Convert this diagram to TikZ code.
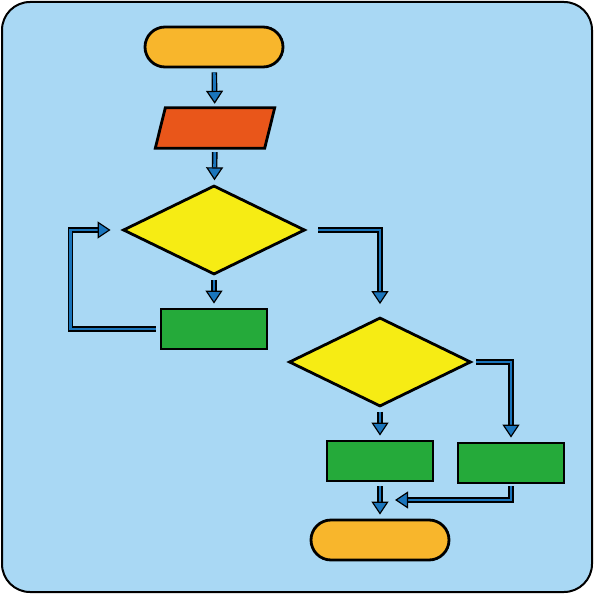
\documentclass[tikz,border=0pt]{standalone}
\usepackage{tikz}
\usetikzlibrary{arrows.meta,shapes.geometric}
\definecolor{backblue}{HTML}{A9D8F4}
\definecolor{termorange}{HTML}{F8B62C}
\definecolor{inred}{HTML}{E9561A}
\definecolor{askyellow}{HTML}{F6EC14}
\definecolor{stepgreen}{HTML}{25AA3A}
\definecolor{flowblue}{HTML}{1A75BC}
\tikzset{
  terminal/.style = {draw=black, line width=2.8pt, fill=termorange, rounded corners=20pt,
                     minimum width=138pt, minimum height=40pt, inner sep=0pt},
  input box/.style = {minimum width=109pt, minimum height=40pt, inner sep=0pt},
  input line/.style = {draw=black, line width=2.8pt, fill=inred, line join=miter},
  ask/.style      = {diamond, draw=black, line width=2.8pt, fill=askyellow,
                     minimum width=182pt, minimum height=89pt, inner sep=0pt},
  stepbox/.style  = {draw=black, line width=2.8pt, fill=stepgreen,
                     minimum width=106pt, minimum height=40pt, inner sep=0pt},
  flow/.style     = {draw=black, line width=1.4pt, double=flowblue, double distance=2.8pt,
                     line join=miter,
                     -{Triangle[length=13pt, width=17pt, fill=flowblue, line width=1.2pt]},
                     shorten <=4pt, shorten >=4pt},
}
\begin{document}
\begin{tikzpicture}[x=1pt, y=-1pt]
  \useasboundingbox (0,0) rectangle (594,594);
  \draw[fill=backblue, line width=2pt, rounded corners=28pt] (2,2) rectangle (592,592);
  % shapes
  \node[terminal] (start) at (214,47) {};
  \node[input box] (read) at (215,128) {};
  \draw[input line] ([xshift=-5pt]read.south west) -- ([xshift=5pt]read.north west)
    -- ([xshift=5pt]read.north east) -- ([xshift=-5pt]read.south east) -- cycle;
  \node[ask] (check1) at (214,230) {};
  \node[stepbox] (work1) at (214,329) {};
  \node[ask] (check2) at (380,362) {};
  \node[stepbox] (work2) at (380,461) {};
  \node[stepbox] (work3) at (511,463) {};
  \node[terminal] (stop) at (380,540) {};
  \coordinate (merge) at (380,500);
  % connectors
  \draw[flow] (start) -- (read);
  \draw[flow] (read) -- (check1);
  \draw[flow] (check1) -- (work1);
  \draw[flow, shorten >=11pt] (work1.west) -- ++(-89,0) |- (check1.west);
  \draw[flow, shorten <=12pt, shorten >=12pt] (check1.east) -| (check2.north);
  \draw[flow] (check2) -- (work2);
  \draw[flow] (check2.east) -| (work3.north);
  \draw[flow] (work2) -- (stop);
  \draw[flow, shorten <=2pt, shorten >=15pt] (work3.south) |- (merge);
\end{tikzpicture}
\end{document}
